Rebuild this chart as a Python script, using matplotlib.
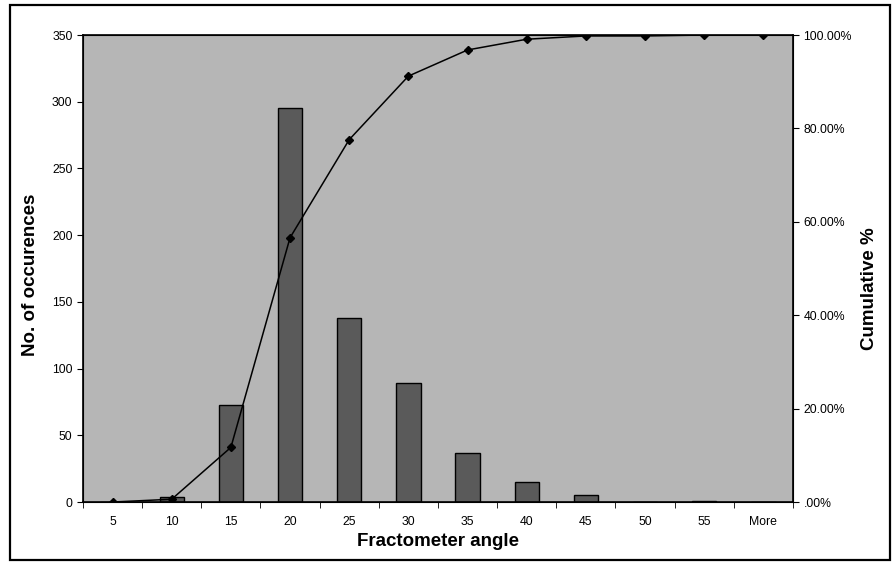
import matplotlib.pyplot as plt
import numpy as np
from matplotlib.patches import Rectangle
from matplotlib.ticker import FuncFormatter

plt.rcParams['font.family'] = ['Liberation Sans', 'DejaVu Sans']

# ---- data ----
bins = ["5", "10", "15", "20", "25", "30", "35", "40", "45", "50", "55", "More"]
counts = [0, 4, 73, 295, 138, 89, 37, 15, 5, 0, 1, 0]
cumulative = [0.0, 0.6, 11.7, 56.6, 77.6, 91.2, 96.8, 99.1, 99.8, 99.8, 100.0, 100.0]

fig = plt.figure(figsize=(8.95, 5.63), dpi=100)
ax = fig.add_axes([0.0927, 0.1083, 0.7933, 0.8295])

x = np.arange(len(bins))
ax.set_facecolor("#b6b6b6")
ax.bar(x, counts, width=0.41, color="#5a5a5a", edgecolor="black", linewidth=1.0, zorder=2)

ax.set_xlim(-0.5, len(bins) - 0.5)
ax.set_ylim(0, 350)
ax.set_yticks(range(0, 351, 50))
ax.set_xticks(x)
ax.set_xticklabels(bins, fontsize=8.8)
ax.set_xticks(np.arange(-0.5, len(bins), 1), minor=True)
ax.tick_params(axis="x", which="major", length=0, pad=10)
ax.tick_params(axis="x", which="minor", length=4, direction="out")
ax.tick_params(axis="y", labelsize=8.8, length=4, direction="out")
for s in ax.spines.values():
    s.set_linewidth(1.2)

# cumulative % on the secondary axis
ax2 = ax.twinx()
ax2.plot(x, cumulative, color="black", linewidth=1.1, marker="D", markersize=4, zorder=3)
ax2.set_ylim(0, 100)
ax2.set_yticks(range(0, 101, 20))
ax2.yaxis.set_major_formatter(FuncFormatter(lambda v, p: ".00%" if v == 0 else "%.2f%%" % v))
ax2.tick_params(axis="y", labelsize=8.8, length=4, direction="out")

# axis titles
fig.text(0.5 * (83 + 793) / 895, 1 - 541 / 563, "Fractometer angle",
         fontsize=13.5, fontweight="bold", ha="center", va="center")
fig.text(31 / 895, 1 - 275 / 563, "No. of occurences", rotation=90,
         fontsize=13.5, fontweight="bold", ha="center", va="center")
fig.text(870 / 895, 1 - 289 / 563, "Cumulative %", rotation=90,
         fontsize=13.5, fontweight="bold", ha="center", va="center")

# outer chart border
fig.patches.append(Rectangle((10 / 895, 3 / 563), 880 / 895, 555 / 563, transform=fig.transFigure,
                             fill=False, edgecolor="black", linewidth=1.6))

fig.savefig("out.png", dpi=100)
